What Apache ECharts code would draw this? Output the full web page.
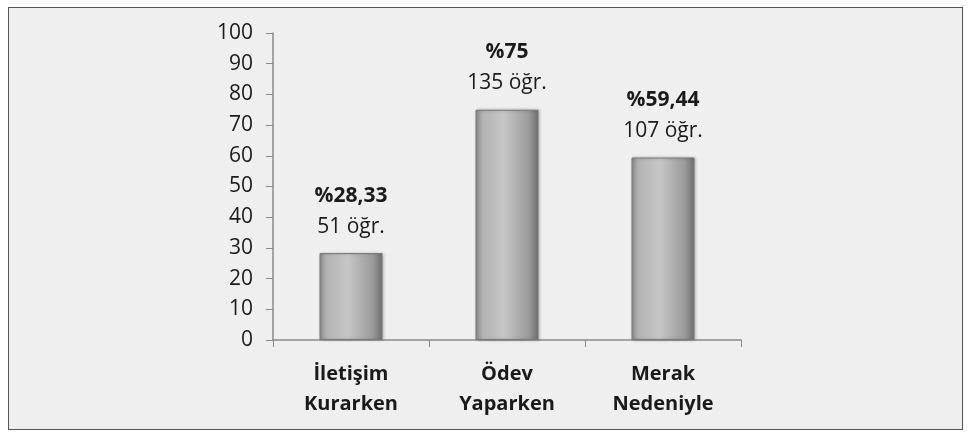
<!DOCTYPE html>
<html>
  <head>
    <meta charset="utf-8">
    <title>Bar chart</title>
    <style>
      body { margin: 0; background: #ffffff; }
      #frame {
        position: absolute; left: 8px; top: 7px; width: 953px; height: 421px;
        border: 1px solid #555; background: #efefef;
      }
      #chart { position: absolute; left: 0; top: 0; width: 972px; height: 437px; }
    </style>
  </head>
  <body>
    <div id="frame"></div>
    <div id="chart"></div>
    <script src="https://cdn.jsdelivr.net/npm/echarts@6/dist/echarts.min.js"></script>
    <script>
      var categories = ['İletişim\nKurarken', 'Ödev\nYaparken', 'Merak\nNedeniyle'];
      var percents = [28.33, 75, 59.44];
      var percentLabels = ['%28,33', '%75', '%59,44'];
      var counts = [51, 135, 107];
      var yTicks = { min: 0, max: 100, interval: 10 };

      var font = '"Open Sans", "Noto Sans", sans-serif';
      var barColor = new echarts.graphic.LinearGradient(0, 0, 1, 0, [
        { offset: 0, color: '#8e8e8e' },
        { offset: 0.12, color: '#b4b4b4' },
        { offset: 0.45, color: '#c6c6c6' },
        { offset: 0.85, color: '#9a9a9a' },
        { offset: 1, color: '#6e6e6e' }
      ]);

      var chart = echarts.init(document.getElementById('chart'));
      chart.setOption({
        animation: false,
        grid: { left: 273, right: 231, top: 33, bottom: 97 },
        xAxis: {
          type: 'category',
          data: categories,
          axisLine: { lineStyle: { color: '#8a8a8a', width: 1.5 } },
          axisTick: { show: true, length: 7, lineStyle: { color: '#8a8a8a' } },
          axisLabel: {
            color: '#1a1a1a', fontFamily: font, fontWeight: 'bold', fontSize: 20,
            lineHeight: 30, margin: 19
          }
        },
        yAxis: {
          type: 'value',
          min: yTicks.min, max: yTicks.max, interval: yTicks.interval,
          splitLine: { show: false },
          axisLine: { show: true, lineStyle: { color: '#8a8a8a', width: 1.5 } },
          axisTick: { show: true, length: 7, lineStyle: { color: '#8a8a8a' } },
          axisLabel: { color: '#1a1a1a', fontFamily: font, fontSize: 21, margin: 20 }
        },
        series: [{
          type: 'bar',
          data: percents,
          barWidth: 63,
          itemStyle: {
            color: barColor, borderColor: '#7a7a7a', borderWidth: 1,
            shadowColor: 'rgba(0,0,0,0.25)', shadowBlur: 3, shadowOffsetX: 1
          },
          label: {
            show: true,
            position: 'top',
            distance: 11,
            formatter: function (p) {
              return '{a|' + percentLabels[p.dataIndex] + '}\n{b|' + counts[p.dataIndex] + ' öğr.}';
            },
            rich: {
              a: { fontFamily: font, fontWeight: 'bold', fontSize: 21, color: '#1a1a1a', lineHeight: 31 },
              b: { fontFamily: font, fontSize: 21, color: '#1a1a1a', lineHeight: 31 }
            }
          }
        }]
      });
    </script>
  </body>
</html>
